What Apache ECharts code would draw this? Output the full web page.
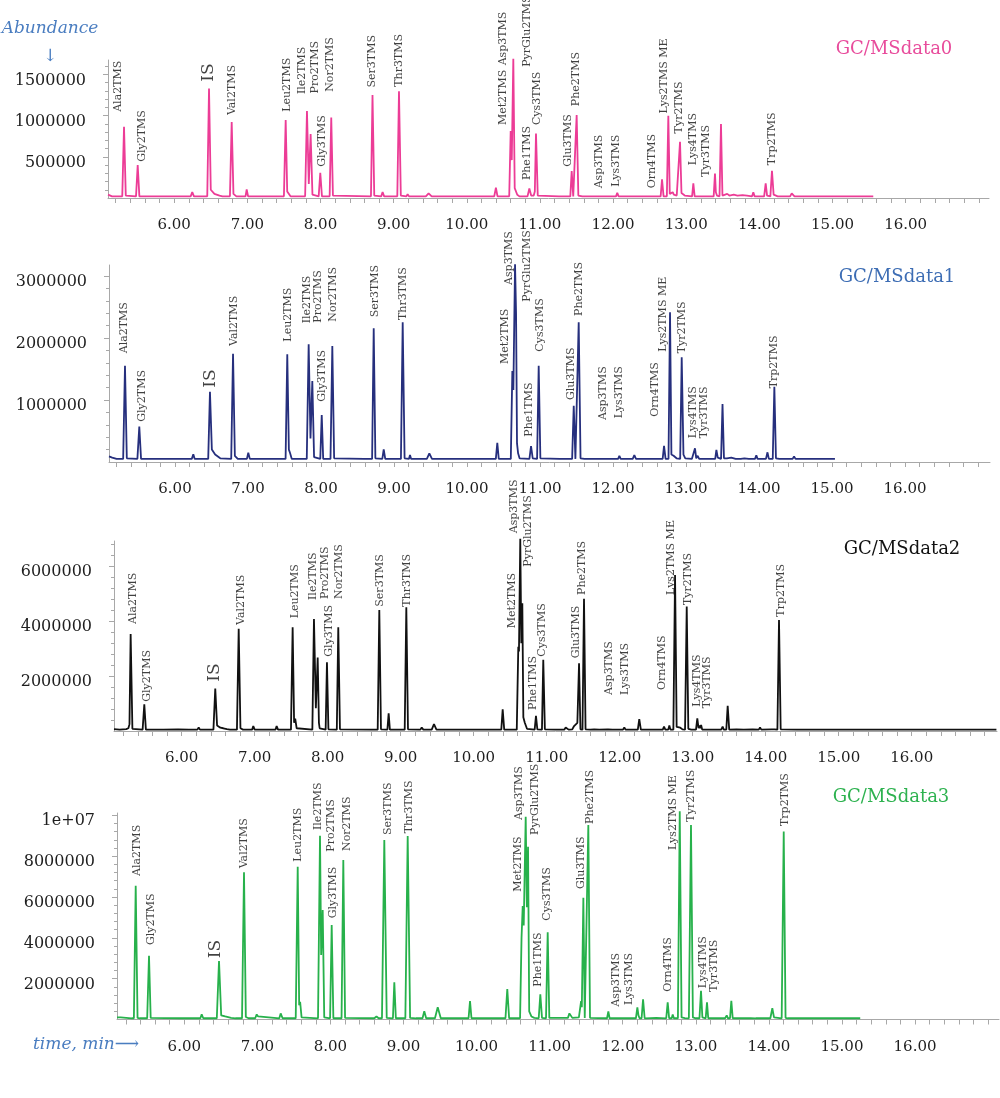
<!DOCTYPE html>
<html><head><meta charset="utf-8">
<script src="https://cdn.jsdelivr.net/npm/echarts@6/dist/echarts.min.js"></script>
<style>html,body{margin:0;padding:0;background:#fff}#c{width:1000px;height:1098px}</style>
</head><body><div id="c"></div>
<script>
// ---------- DATA (time in min, abundance in millions) ----------
const panelNames = ['GC/MSdata0', 'GC/MSdata1', 'GC/MSdata2', 'GC/MSdata3'];
const xTickLabels = [6, 7, 8, 9, 10, 11, 12, 13, 14, 15, 16];
const yTickLabels = [[0.5, 1, 1.5], [1, 2, 3], [2, 4, 6], [2, 4, 6, 8, 10]];

const peakLabels = ['Ala2TMS','Gly2TMS','IS','Val2TMS','Leu2TMS','Ile2TMS','Pro2TMS','Gly3TMS','Nor2TMS','Ser3TMS','Thr3TMS',
  'Met2TMS','Asp3TMS','PyrGlu2TMS','Phe1TMS','Cys3TMS','Glu3TMS','Phe2TMS','Asp3TMS','Lys3TMS','Orn4TMS','Lys2TMS ME',
  'Tyr2TMS','Lys4TMS','Tyr3TMS','Trp2TMS'];

const labelTime0 = [5.236,5.556,6.466,6.794,7.538,7.743,7.925,8.025,8.13,8.70,9.073,10.491,10.491,10.819,10.827,10.956,11.388,11.493,11.811,12.04,12.528,12.70,12.90,13.096,13.266,14.168];
const labelLevel0 = [1.046,0.44,1.41,1.006,1.046,1.261,1.269,0.379,1.289,1.342,1.35,0.885,1.61,1.592,0.217,0.885,0.379,1.115,0.117,0.136,0.117,1.027,0.784,0.399,0.257,0.399];
const labelTime1 = [5.301,5.544,6.489,6.812,7.552,7.804,7.963,8.018,8.168,8.74,9.119,10.521,10.58,10.818,10.854,11.0,11.42,11.534,11.858,12.087,12.575,12.689,12.941,13.10,13.247,14.205];
const labelLevel1 = [1.753,0.65,1.199,1.871,1.941,2.237,2.247,0.973,2.263,2.333,2.29,1.581,2.855,2.585,0.408,1.779,1.0,2.355,0.677,0.705,0.731,1.779,1.753,0.382,0.382,1.188];
const labelTime2 = [5.329,5.521,6.456,6.808,7.552,7.795,7.963,8.022,8.159,8.716,9.09,10.521,10.552,10.748,10.808,10.932,11.401,11.488,11.858,12.073,12.575,12.699,12.94,13.063,13.2,14.205];
const labelLevel2 = [3.898,1.067,1.796,3.862,4.105,4.772,4.809,2.707,4.809,4.528,4.528,3.741,7.2,5.986,0.765,2.707,2.646,4.954,1.311,1.311,1.494,4.954,4.59,0.886,0.826,4.165];
const labelTime3 = [5.349,5.54,6.434,6.817,7.552,7.834,8.008,8.031,8.222,8.783,9.075,10.571,10.585,10.80,10.845,10.96,11.425,11.552,11.908,12.09,12.624,12.684,12.934,13.095,13.249,14.221];
const labelLevel3 = [7.026,3.647,2.995,7.40,7.726,9.278,8.216,4.953,8.25,9.033,9.116,6.258,9.767,9.033,1.607,4.839,6.389,9.572,0.628,0.71,1.362,8.299,9.686,1.526,1.362,9.474];

const trace0 = [[5.095,0.04],[5.12,0.035],[5.15,0.02],[5.29,0.02],[5.314,0.864],[5.338,0.03],[5.36,0.02],
[5.478,0.02],[5.501,0.399],[5.524,0.02],[6.225,0.02],[6.247,0.072],[6.27,0.02],
[6.452,0.02],[6.476,1.33],[6.5,0.1],[6.55,0.05],[6.62,0.03],[6.66,0.02],
[6.762,0.02],[6.786,0.921],[6.81,0.05],[6.85,0.02],[6.975,0.02],[6.991,0.104],[7.01,0.02],
[7.3,0.02],[7.319,0.03],[7.34,0.02],[7.5,0.02],[7.524,0.945],[7.545,0.08],[7.56,0.065],[7.59,0.02],
[7.79,0.02],[7.815,1.055],[7.84,0.169],[7.865,0.775],[7.89,0.04],[7.91,0.02],
[7.975,0.02],[7.997,0.306],[8.02,0.02],[8.125,0.02],[8.147,0.978],[8.17,0.03],[8.19,0.02],
[8.69,0.02],[8.711,1.249],[8.735,0.03],[8.76,0.02],[8.83,0.02],[8.849,0.072],[8.87,0.02],
[9.05,0.02],[9.073,1.297],[9.098,0.03],[9.12,0.02],[9.175,0.02],[9.191,0.047],[9.21,0.02],
[9.3,0.02],[9.32,0.027],[9.34,0.02],[9.44,0.02],[9.478,0.056],[9.52,0.02],
[10.375,0.02],[10.398,0.124],[10.42,0.02],
[10.58,0.02],[10.6,0.812],[10.615,0.46],[10.636,1.69],[10.655,0.12],[10.668,0.1],[10.69,0.04],[10.72,0.02],
[10.83,0.02],[10.855,0.116],[10.88,0.03],[10.915,0.03],[10.93,0.08],[10.946,0.784],[10.97,0.03],[10.99,0.02],
[11.26,0.02],[11.274,0.03],[11.29,0.02],[11.415,0.02],[11.434,0.326],[11.455,0.02],
[11.48,0.02],[11.502,1.006],[11.525,0.03],[11.545,0.02],[11.58,0.02],[11.593,0.025],[11.61,0.02],
[12.04,0.02],[12.057,0.063],[12.075,0.02],[12.245,0.02],[12.262,0.032],[12.28,0.02],
[12.56,0.02],[12.573,0.025],[12.59,0.02],[12.65,0.02],[12.669,0.226],[12.69,0.02],
[12.735,0.02],[12.755,0.998],[12.775,0.05],[12.8,0.04],[12.815,0.07],[12.83,0.04],[12.85,0.05],[12.87,0.03],
[12.895,0.02],[12.915,0.682],[12.935,0.06],[12.96,0.04],[12.98,0.03],[13.0,0.02],
[13.08,0.02],[13.097,0.177],[13.115,0.02],[13.23,0.02],[13.245,0.025],[13.26,0.02],
[13.375,0.02],[13.393,0.298],[13.405,0.07],[13.42,0.03],[13.455,0.02],[13.475,0.897],[13.495,0.03],
[13.56,0.05],[13.59,0.03],[13.65,0.04],[13.7,0.03],[13.77,0.035],[13.83,0.03],
[13.9,0.02],[13.917,0.07],[13.935,0.02],[14.065,0.02],[14.086,0.177],[14.105,0.03],
[14.15,0.02],[14.172,0.33],[14.195,0.04],[14.25,0.02],[14.42,0.02],[14.442,0.056],[14.46,0.035],[14.48,0.02],
[15.0,0.02],[15.024,0.03],[15.045,0.02],[15.557,0.02]];

const trace1 = [[5.096,0.09],[5.14,0.07],[5.2,0.05],[5.29,0.05],[5.315,1.553],[5.34,0.06],
[5.485,0.05],[5.511,0.57],[5.535,0.05],[6.23,0.05],[6.251,0.124],[6.27,0.05],
[6.455,0.05],[6.479,1.134],[6.505,0.2],[6.55,0.12],[6.62,0.06],
[6.77,0.05],[6.795,1.747],[6.82,0.1],[6.86,0.05],[6.985,0.05],[7.004,0.15],[7.025,0.05],
[7.32,0.05],[7.338,0.08],[7.36,0.05],[7.515,0.05],[7.538,1.737],[7.56,0.2],[7.575,0.15],[7.6,0.05],
[7.805,0.05],[7.831,1.898],[7.856,0.38],[7.881,1.306],[7.905,0.08],[7.93,0.05],
[7.99,0.05],[8.01,0.758],[8.03,0.05],[8.13,0.05],[8.155,1.871],[8.18,0.06],
[8.59,0.05],[8.61,0.07],[8.63,0.05],[8.7,0.05],[8.722,2.156],[8.745,0.06],
[8.84,0.05],[8.859,0.205],[8.88,0.05],[9.095,0.05],[9.119,2.253],[9.145,0.06],
[9.205,0.05],[9.219,0.113],[9.235,0.05],[9.3,0.05],[9.32,0.07],[9.34,0.05],[9.45,0.05],[9.484,0.14],[9.52,0.05],
[10.395,0.05],[10.415,0.31],[10.435,0.05],
[10.6,0.05],[10.621,1.468],[10.635,1.16],[10.658,3.19],[10.672,2.4],[10.685,0.3],[10.7,0.14],[10.72,0.06],
[10.855,0.05],[10.877,0.258],[10.9,0.06],[10.96,0.05],[10.982,1.553],[11.005,0.06],
[11.27,0.05],[11.29,0.07],[11.31,0.05],[11.44,0.05],[11.462,0.908],[11.485,0.05],
[11.508,0.05],[11.53,2.253],[11.555,0.06],[11.61,0.05],[11.625,0.06],[11.64,0.05],
[12.07,0.05],[12.087,0.1],[12.105,0.05],[12.27,0.05],[12.292,0.11],[12.315,0.05],
[12.68,0.05],[12.699,0.26],[12.72,0.05],
[12.76,0.05],[12.781,2.415],[12.8,0.12],[12.83,0.1],[12.85,0.07],[12.87,0.06],
[12.92,0.05],[12.941,1.689],[12.965,0.12],[12.99,0.06],
[13.08,0.05],[13.1,0.07],[13.123,0.22],[13.14,0.06],[13.16,0.1],[13.18,0.05],
[13.4,0.05],[13.416,0.194],[13.435,0.07],[13.48,0.05],[13.5,0.935],[13.52,0.06],
[13.56,0.06],[13.62,0.07],[13.68,0.05],[13.75,0.05],[13.8,0.06],[13.86,0.05],
[13.945,0.05],[13.963,0.11],[13.98,0.05],[14.095,0.05],[14.116,0.156],[14.135,0.05],
[14.188,0.05],[14.21,1.215],[14.232,0.06],[14.28,0.05],[14.46,0.05],[14.48,0.09],[14.5,0.05],[15.04,0.05]];

const trace2 = [[5.073,0.07],[5.15,0.05],[5.24,0.07],[5.27,0.1],[5.285,0.25],[5.301,3.53],[5.325,0.08],[5.35,0.05],
[5.465,0.05],[5.488,0.97],[5.51,0.05],[5.75,0.05],[5.95,0.06],[6.1,0.05],
[6.215,0.05],[6.233,0.13],[6.25,0.05],
[6.435,0.05],[6.46,1.55],[6.485,0.2],[6.53,0.12],[6.57,0.1],[6.62,0.07],[6.66,0.05],
[6.757,0.05],[6.781,3.72],[6.805,0.1],[6.84,0.05],[6.965,0.05],[6.981,0.18],[7.0,0.05],
[7.285,0.05],[7.301,0.18],[7.32,0.05],[7.497,0.05],[7.52,3.78],[7.54,0.3],[7.555,0.45],[7.575,0.1],[7.6,0.05],
[7.79,0.05],[7.812,4.08],[7.838,0.83],[7.863,2.68],[7.88,0.3],[7.89,0.1],[7.91,0.05],
[7.972,0.05],[7.99,2.5],[8.01,0.06],[8.125,0.05],[8.145,3.78],[8.168,0.06],
[8.59,0.05],[8.615,0.1],[8.64,0.05],[8.685,0.05],[8.707,4.41],[8.73,0.06],
[8.818,0.05],[8.835,0.64],[8.852,0.05],[9.055,0.05],[9.077,4.51],[9.1,0.06],
[9.27,0.05],[9.288,0.13],[9.31,0.05],[9.425,0.05],[9.456,0.25],[9.49,0.05],
[9.88,0.05],[9.9,0.08],[9.92,0.05],[10.08,0.05],[10.1,0.07],[10.12,0.05],
[10.378,0.05],[10.397,0.79],[10.418,0.05],
[10.59,0.05],[10.611,3.07],[10.62,2.9],[10.638,7.0],[10.652,3.2],[10.666,4.65],[10.68,0.5],[10.7,0.3],[10.73,0.08],
[10.835,0.05],[10.853,0.55],[10.872,0.06],[10.935,0.05],[10.953,2.59],[10.975,0.06],
[11.12,0.05],[11.14,0.1],[11.16,0.05],[11.24,0.05],[11.26,0.13],[11.28,0.1],[11.3,0.05],
[11.35,0.06],[11.375,0.18],[11.4,0.12],[11.42,0.3],[11.443,2.47],[11.462,0.06],
[11.49,0.05],[11.511,4.82],[11.532,0.06],[11.6,0.05],[11.65,0.06],[11.72,0.05],[11.84,0.06],[11.9,0.05],
[12.045,0.05],[12.063,0.13],[12.08,0.05],[12.248,0.05],[12.268,0.43],[12.29,0.05],
[12.59,0.05],[12.607,0.16],[12.625,0.05],[12.665,0.05],[12.68,0.2],[12.695,0.05],
[12.735,0.05],[12.758,5.68],[12.78,0.15],[12.8,0.1],[12.83,0.12],[12.86,0.06],
[12.895,0.05],[12.918,4.53],[12.94,0.08],[12.98,0.05],
[13.045,0.05],[13.063,0.46],[13.08,0.1],[13.095,0.2],[13.105,0.1],[13.115,0.22],[13.13,0.05],
[13.39,0.05],[13.41,0.16],[13.425,0.05],[13.46,0.05],[13.479,0.92],[13.5,0.05],
[13.6,0.06],[13.7,0.05],[13.82,0.06],[13.905,0.05],[13.922,0.13],[13.94,0.05],
[14.08,0.06],[14.1,0.09],[14.12,0.06],[14.16,0.05],[14.182,4.04],[14.205,0.06],
[14.43,0.05],[14.447,0.1],[14.465,0.05],[15.02,0.05],[15.04,0.07],[15.06,0.05],
[15.76,0.05],[15.78,0.06],[15.8,0.05],[17.16,0.05]];

const trace3 = [[5.079,0.1],[5.1,0.16],[5.13,0.1],[5.28,0.06],[5.31,0.06],[5.335,6.55],[5.36,0.08],[5.39,0.06],
[5.492,0.06],[5.517,3.12],[5.54,0.08],[5.56,0.06],[5.94,0.06],[5.96,0.1],[5.98,0.06],
[6.22,0.06],[6.238,0.25],[6.26,0.06],
[6.445,0.06],[6.475,2.86],[6.505,0.2],[6.56,0.15],[6.64,0.08],[6.7,0.06],
[6.79,0.06],[6.817,7.21],[6.842,0.12],[6.88,0.06],[6.97,0.06],[6.991,0.25],[7.01,0.15],[7.03,0.06],
[7.3,0.06],[7.319,0.3],[7.345,0.06],[7.525,0.06],[7.552,7.48],[7.572,0.7],[7.585,0.87],[7.605,0.1],[7.63,0.06],
[7.83,0.06],[7.857,9.0],[7.873,3.16],[7.894,5.36],[7.915,0.1],[7.94,0.06],
[7.995,0.06],[8.017,4.63],[8.04,0.06],[8.152,0.06],[8.176,7.81],[8.2,0.08],[8.22,0.06],
[8.6,0.06],[8.63,0.15],[8.66,0.06],[8.705,0.06],[8.737,8.79],[8.77,0.08],
[8.855,0.06],[8.874,1.82],[8.895,0.06],[9.025,0.06],[9.057,8.98],[9.09,0.08],
[9.17,0.06],[9.185,0.12],[9.2,0.06],[9.26,0.06],[9.284,0.4],[9.31,0.06],[9.43,0.06],[9.468,0.6],[9.51,0.06],
[9.75,0.06],[9.77,0.1],[9.79,0.06],[9.89,0.06],[9.91,0.9],[9.93,0.06],
[10.395,0.06],[10.42,1.49],[10.445,0.06],
[10.595,0.06],[10.615,4.0],[10.631,5.56],[10.645,4.6],[10.672,9.93],[10.688,5.5],[10.704,8.46],[10.72,0.4],[10.75,0.15],[10.79,0.08],
[10.85,0.06],[10.872,1.23],[10.895,0.08],[10.95,0.06],[10.973,4.27],[10.995,0.08],
[11.25,0.08],[11.27,0.3],[11.29,0.25],[11.31,0.08],[11.4,0.1],[11.43,0.9],[11.44,0.6],[11.461,5.96],[11.48,0.08],
[11.505,0.06],[11.529,9.52],[11.552,0.08],[11.785,0.06],[11.803,0.4],[11.82,0.06],
[12.06,0.06],[12.077,0.15],[12.095,0.06],[12.18,0.06],[12.2,0.6],[12.215,0.2],[12.23,0.06],
[12.258,0.06],[12.278,0.99],[12.3,0.06],[12.46,0.08],
[12.595,0.06],[12.615,0.84],[12.635,0.06],[12.67,0.06],[12.684,0.25],[12.7,0.06],
[12.755,0.06],[12.78,10.2],[12.805,0.1],[12.85,0.07],[12.905,0.06],[12.934,9.52],[12.96,0.1],[13.0,0.06],
[13.05,0.06],[13.071,1.4],[13.09,0.1],[13.135,0.06],[13.153,0.84],[13.17,0.06],
[13.4,0.06],[13.423,0.2],[13.44,0.06],[13.468,0.06],[13.486,0.92],[13.505,0.06],
[13.62,0.06],[13.75,0.07],[13.82,0.06],[13.905,0.06],[13.924,0.15],[13.94,0.06],
[14.02,0.06],[14.047,0.55],[14.07,0.1],[14.175,0.06],[14.203,9.2],[14.228,0.08],[14.26,0.06],
[14.43,0.06],[14.45,0.1],[14.47,0.06],[15.02,0.06],[15.04,0.08],[15.06,0.06],[15.25,0.06]];

// ---------- LAYOUT / STYLE ----------
const traces = [trace0, trace1, trace2, trace3];
const labelTimes = [labelTime0, labelTime1, labelTime2, labelTime3];
const labelLevels = [labelLevel0, labelLevel1, labelLevel2, labelLevel3];
const lineColors = ['#ec3c96', '#262f7d', '#111111', '#27b14b'];
const titleColors = ['#e84c9c', '#3d6db4', '#111111', '#2db24f'];
const titlePos = [[894, 49], [897, 277], [902, 549], [891, 797]];
const grids = [
  {left: 108, top: 60, width: 881, height: 138},
  {left: 109, top: 265, width: 881, height: 197},
  {left: 114, top: 541, width: 883, height: 190},
  {left: 117, top: 813, width: 882, height: 206.5}
];
const xRanges = [[5.095, 17.139], [5.096, 17.164], [5.073, 17.168], [5.079, 17.149]];
const yMaxes = [1.675, 3.177, 6.92, 10.11];
const yMinorStep = [0.1, 0.2, 0.4, 0.4];
const FONT = '"DejaVu Serif", serif';
const AX = '#a8a8a8';

const xMinorTicks = [];
for (let k = 26; k <= 85; k++) xMinorTicks.push(+(k * 0.2).toFixed(1));

function yFmt(v) {
  const n = Math.round(v * 1e6);
  return '\n' + (n >= 1e7 ? '1e+07' : String(n));
}

const xAxis = [], yAxis = [], series = [], graphic = [];
for (let i = 0; i < 4; i++) {
  xAxis.push({
    gridIndex: i, type: 'value', min: xRanges[i][0], max: xRanges[i][1],
    axisLine: {show: true, lineStyle: {color: AX, width: 1}},
    axisTick: {show: true, customValues: xMinorTicks, length: 5, lineStyle: {color: AX}},
    axisLabel: {customValues: xTickLabels, formatter: v => v.toFixed(2), margin: 20,
      fontFamily: FONT, fontSize: 15, color: '#1e1e1e'},
    splitLine: {show: false}
  });
  const minors = [];
  for (let k = 1; k * yMinorStep[i] <= yMaxes[i] + 1e-9; k++) minors.push(+(k * yMinorStep[i]).toFixed(2));
  yAxis.push({
    gridIndex: i, type: 'value', position: 'left', min: 0, max: yMaxes[i],
    axisLine: {show: true, lineStyle: {color: AX, width: 1}},
    axisTick: {show: true, customValues: yTickLabels[i], length: 5, lineStyle: {color: AX}},
    axisLabel: {customValues: yTickLabels[i], formatter: yFmt, margin: 22, fontFamily: FONT,
      fontSize: 16, lineHeight: 12, color: '#1e1e1e'},
    splitLine: {show: false}
  });
  yAxis.push({
    gridIndex: i, type: 'value', position: 'left', offset: 0, min: 0, max: yMaxes[i],
    axisLine: {show: false},
    axisTick: {show: true, customValues: minors, length: 3, lineStyle: {color: AX}},
    axisLabel: {show: false}, splitLine: {show: false}
  });
  series.push({
    type: 'line', xAxisIndex: i, yAxisIndex: 2 * i, data: traces[i],
    symbol: 'none', showSymbol: false, clip: false, silent: true,
    lineStyle: {color: lineColors[i], width: 1.8, join: 'bevel'}
  });
  series.push({
    type: 'scatter', xAxisIndex: i, yAxisIndex: 2 * i, clip: false, silent: true,
    symbolSize: 1, itemStyle: {color: 'rgba(0,0,0,0)'},
    data: peakLabels.map((n, k) => {
      const item = {value: [labelTimes[i][k], labelLevels[i][k], n]};
      if (n === 'IS') item.label = {fontSize: 17};
      return item;
    }),
    label: {show: true, position: 'inside', formatter: p => p.data.value[2], rotate: 90,
      align: 'left', verticalAlign: 'middle', fontFamily: FONT, fontSize: 11, color: '#111'},
    labelLayout: {hideOverlap: false}
  });
  graphic.push({type: 'text', x: titlePos[i][0], y: titlePos[i][1], z: 100,
    style: {text: panelNames[i], font: '18px ' + FONT, fill: titleColors[i],
      align: 'center', verticalAlign: 'middle', textAlign: 'center', textVerticalAlign: 'middle'}});
}
graphic.push({type: 'text', x: 50, y: 29, z: 100,
  style: {text: 'Abundance', font: 'italic 17px ' + FONT, fill: '#4a7dc0',
    align: 'center', verticalAlign: 'middle', textAlign: 'center', textVerticalAlign: 'middle'}});
graphic.push({type: 'text', x: 50, y: 57, z: 100,
  style: {text: '\u2193', font: '17px ' + FONT, fill: '#4a7dc0',
    align: 'center', verticalAlign: 'middle', textAlign: 'center', textVerticalAlign: 'middle'}});
graphic.push({type: 'text', x: 33, y: 1045, z: 100,
  style: {text: 'time, min\u27F6', font: 'italic 17px ' + FONT, fill: '#4a7dc0',
    align: 'left', verticalAlign: 'middle', textAlign: 'left', textVerticalAlign: 'middle'}});

const chart = echarts.init(document.getElementById('c'));
chart.setOption({
  animation: false, backgroundColor: '#fff',
  grid: grids, xAxis: xAxis, yAxis: yAxis, series: series, graphic: graphic
});
</script></body></html>
